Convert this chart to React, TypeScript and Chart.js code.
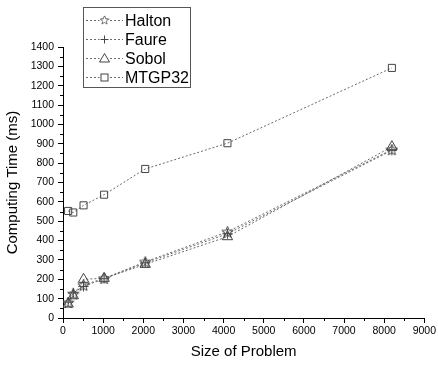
import React, { useEffect, useRef } from "react";
import { Chart, registerables } from "chart.js";

Chart.register(...registerables);

const sizes = [128, 256, 512, 1024, 2048, 4096, 8192];
const halton = [80, 125, 170, 205, 290, 445, 870];
const faure = [82, 130, 163, 203, 285, 435, 866];
const sobol = [72, 115, 200, 205, 277, 420, 885];
const mtgp32 = [553, 545, 582, 637, 770, 903, 1292];
const seriesNames = ["Halton", "Faure", "Sobol", "MTGP32"];

const FONT = "'Liberation Sans', Arial, sans-serif";
const LINE = "#6a6a6a";
const MARK = "#444";

function makeStar(): HTMLCanvasElement {
  const c = document.createElement("canvas");
  c.width = 13;
  c.height = 13;
  const ctx = c.getContext("2d")!;
  ctx.strokeStyle = MARK;
  ctx.lineWidth = 1;
  ctx.beginPath();
  const cx = 6.5, cy = 7, R = 6, r = 2.6;
  for (let i = 0; i < 10; i++) {
    const a = -Math.PI / 2 + (i * Math.PI) / 5;
    const rad = i % 2 === 0 ? R : r;
    const x = cx + rad * Math.cos(a);
    const y = cy + rad * Math.sin(a);
    if (i === 0) ctx.moveTo(x, y);
    else ctx.lineTo(x, y);
  }
  ctx.closePath();
  ctx.stroke();
  return c;
}

export default function App() {
  const ref = useRef<HTMLCanvasElement>(null);
  useEffect(() => {
    document.body.style.margin = "0";
    const star = makeStar();
    const styles: any[] = [star, "cross", "triangle", "rect"];
    const radii = [6, 5, 6, 5];
    const vals = [halton, faure, sobol, mtgp32];

    const datasets = seriesNames.map((name, i) => ({
      label: name,
      data: sizes.map((s, j) => ({ x: s, y: vals[i][j] })),
      borderColor: LINE,
      borderWidth: 1,
      borderDash: [2, 2],
      pointStyle: styles[i],
      pointRadius: radii[i],
      pointBorderColor: MARK,
      pointBackgroundColor: "rgba(0,0,0,0)",
      pointBorderWidth: 1,
      fill: false,
      tension: 0,
    }));

    const extras = {
      id: "extras",
      afterDraw(chart: any) {
        const ctx = chart.ctx;
        const xs = chart.scales.x;
        const ys = chart.scales.y;
        const area = chart.chartArea;
        ctx.save();
        ctx.strokeStyle = "#000";
        ctx.lineWidth = 1;
        for (let v = 50; v < 1400; v += 100) {
          const py = Math.round(ys.getPixelForValue(v)) + 0.5;
          ctx.beginPath();
          ctx.moveTo(area.left - 3, py);
          ctx.lineTo(area.left, py);
          ctx.stroke();
        }
        for (let v = 500; v < 9000; v += 1000) {
          const px = Math.round(xs.getPixelForValue(v)) + 0.5;
          ctx.beginPath();
          ctx.moveTo(px, area.bottom);
          ctx.lineTo(px, area.bottom + 3);
          ctx.stroke();
        }
        ctx.strokeStyle = "#555";
        ctx.strokeRect(83.5, 7.5, 107, 80);
        ctx.font = "16px " + FONT;
        ctx.textBaseline = "middle";
        ctx.fillStyle = "#000";
        const ys0 = [20, 39, 58, 77];
        chart.data.datasets.forEach((ds: any, i: number) => {
          const y = ys0[i] + 0.5;
          ctx.save();
          ctx.strokeStyle = LINE;
          ctx.setLineDash([2, 2]);
          ctx.beginPath();
          ctx.moveTo(86, y);
          ctx.lineTo(123, y);
          ctx.stroke();
          ctx.restore();
          const cx = 104.5;
          ctx.save();
          ctx.fillStyle = "#fff";
          ctx.fillRect(cx - 5, y - 5, 10, 10);
          ctx.restore();
          ctx.save();
          ctx.strokeStyle = MARK;
          ctx.lineWidth = 1;
          const ps = ds.pointStyle;
          if (ps === "cross") {
            ctx.beginPath();
            ctx.moveTo(cx - 4, y);
            ctx.lineTo(cx + 4, y);
            ctx.moveTo(cx, y - 4);
            ctx.lineTo(cx, y + 4);
            ctx.stroke();
          } else if (ps === "triangle") {
            ctx.beginPath();
            ctx.moveTo(cx, y - 5);
            ctx.lineTo(cx + 5, y + 3.5);
            ctx.lineTo(cx - 5, y + 3.5);
            ctx.closePath();
            ctx.stroke();
          } else if (ps === "rect") {
            ctx.strokeRect(cx - 3.5, y - 3.5, 7, 7);
          } else {
            ctx.drawImage(ps, cx - 5, y - 5.5, 10, 10);
          }
          ctx.restore();
          ctx.fillText(ds.label, 125, y + 1);
        });
        ctx.restore();
      },
    };

    const chart = new Chart(ref.current!, {
      type: "line",
      data: { datasets },
      options: {
        animation: false,
        responsive: false,
        maintainAspectRatio: false,
        layout: { padding: { top: 47, right: 13, left: 0, bottom: 0 } },
        plugins: { legend: { display: false }, tooltip: { enabled: false } },
        scales: {
          x: {
            type: "linear",
            min: 0,
            max: 9000,
            afterFit: (s: any) => {
              s.height = 47;
            },
            ticks: {
              stepSize: 1000,
              color: "#000",
              font: { family: FONT, size: 10.5 },
              padding: 2,
              maxRotation: 0,
              callback: (v: any) => String(v),
            },
            grid: {
              display: true,
              drawOnChartArea: false,
              drawTicks: true,
              tickLength: 5,
              tickColor: "#000",
              color: "#000",
            },
            border: { display: true, color: "#000", width: 1 },
            title: {
              display: true,
              text: "Size of Problem",
              color: "#000",
              font: { family: FONT, size: 15 },
              padding: { top: 0, bottom: 4 },
            },
          },
          y: {
            type: "linear",
            min: 0,
            max: 1400,
            afterFit: (s: any) => {
              s.width = 63;
            },
            ticks: {
              stepSize: 100,
              color: "#000",
              font: { family: FONT, size: 10.5 },
              padding: 4,
              callback: (v: any) => String(v),
            },
            grid: {
              display: true,
              drawOnChartArea: false,
              drawTicks: true,
              tickLength: 5,
              tickColor: "#000",
              color: "#000",
            },
            border: { display: true, color: "#000", width: 1 },
            title: {
              display: true,
              text: "Computing Time (ms)",
              color: "#000",
              font: { family: FONT, size: 15 },
              padding: { top: 4, bottom: 0 },
            },
          },
        },
      },
      plugins: [extras],
    } as any);
    return () => chart.destroy();
  }, []);
  return (
    <div style={{ width: 438, height: 365, background: "#fff" }}>
      <canvas ref={ref} width={438} height={365} style={{ display: "block" }} />
    </div>
  );
}
